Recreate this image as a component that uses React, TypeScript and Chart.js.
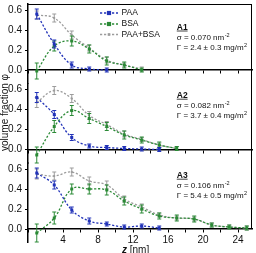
import React, { useEffect, useRef } from 'react';
import { Chart, registerables } from 'chart.js';

Chart.register(...registerables);

// ---------- data ----------
const Z_NM = [1, 3, 5, 7, 9, 11, 13, 15, 17, 19, 21, 23, 25];
const X_TICK_LABELS = [4, 8, 12, 16, 20, 24];
const Y_TICKS = [0, 0.2, 0.4, 0.6];

const SERIES_NAMES = ['PAA', 'BSA', 'PAA+BSA'];
const PANEL_NAMES = ['A1', 'A2', 'A3'];
const SIGMA_VALUES = ['0.070', '0.082', '0.106'];
const GAMMA_VALUES = ['2.4 ± 0.3', '3.7 ± 0.4', '5.4 ± 0.5'];

// panel A1
const PAA_A1 = [0.56, 0.26, 0.05, 0.01, 0.0];
const PAA_A1_ERR = [0.05, 0.04, 0.03, 0.02, 0.02];
const BSA_A1 = [-0.01, 0.24, 0.29, 0.21, 0.09, 0.05, 0.0];
const BSA_A1_ERR = [0.08, 0.05, 0.05, 0.04, 0.04, 0.03, 0.02];
const SUM_A1 = [0.55, 0.52, 0.35, 0.22, 0.1, 0.05, 0.01];
const SUM_A1_ERR = [0.04, 0.04, 0.04, 0.03, 0.03, 0.02, 0.02];

// panel A2
const PAA_A2 = [0.52, 0.35, 0.12, 0.035, 0.02, 0.01, 0.005, 0.0];
const PAA_A2_ERR = [0.05, 0.04, 0.03, 0.02, 0.02, 0.02, 0.02, 0.02];
const BSA_A2 = [-0.055, 0.23, 0.39, 0.31, 0.23, 0.145, 0.095, 0.045, 0.01];
const BSA_A2_ERR = [0.08, 0.06, 0.05, 0.05, 0.04, 0.04, 0.03, 0.03, 0.02];
const SUM_A2 = [0.47, 0.59, 0.51, 0.34, 0.25, 0.155, 0.1, 0.045, 0.01];
const SUM_A2_ERR = [0.05, 0.04, 0.04, 0.04, 0.03, 0.03, 0.02, 0.02, 0.02];

// panel A3
const PAA_A3 = [0.56, 0.44, 0.19, 0.08, 0.05, 0.02, 0.03, 0.01];
const PAA_A3_ERR = [0.05, 0.04, 0.03, 0.03, 0.02, 0.02, 0.02, 0.02];
const BSA_A3 = [-0.04, 0.11, 0.4, 0.4, 0.39, 0.28, 0.2, 0.13, 0.11, 0.1, 0.04, 0.02, 0.01];
const BSA_A3_ERR = [0.09, 0.06, 0.05, 0.05, 0.05, 0.04, 0.04, 0.03, 0.03, 0.03, 0.02, 0.02, 0.02];
const SUM_A3 = [0.55, 0.53, 0.57, 0.48, 0.44, 0.3, 0.22, 0.14, 0.11, 0.1, 0.04, 0.02, 0.01];
const SUM_A3_ERR = [0.05, 0.04, 0.04, 0.04, 0.04, 0.03, 0.03, 0.02, 0.02, 0.02, 0.02, 0.02, 0.02];

// ---------- styles ----------
const FONT = "'Liberation Sans', Arial, sans-serif";
const BLUE = '#2233b8';
const GREEN = '#2b8a36';
const GREY = '#9c9c9c';
const COLORS = [BLUE, GREEN, GREY];

const PANELS = [
  { x: 'xA', y: 'yA', vals: [PAA_A1, BSA_A1, SUM_A1], errs: [PAA_A1_ERR, BSA_A1_ERR, SUM_A1_ERR], annot: 0.405 },
  { x: 'xB', y: 'yB', vals: [PAA_A2, BSA_A2, SUM_A2], errs: [PAA_A2_ERR, BSA_A2_ERR, SUM_A2_ERR], annot: 0.518 },
  { x: 'x', y: 'y', vals: [PAA_A3, BSA_A3, SUM_A3], errs: [PAA_A3_ERR, BSA_A3_ERR, SUM_A3_ERR], annot: 0.513 },
];

function makeDataset(series: number, panel: any) {
  const vals: number[] = panel.vals[series];
  const isSum = series === 2;
  return {
    label: SERIES_NAMES[series],
    data: vals.map((v, i) => ({ x: Z_NM[i], y: v })),
    errors: panel.errs[series],
    borderColor: COLORS[series],
    backgroundColor: COLORS[series],
    borderWidth: 1.3,
    borderDash: [2.2, 1.8],
    pointStyle: 'rect',
    pointRadius: isSum ? 1.3 : 2.1,
    pointBorderWidth: 0,
    tension: 0.4,
    fill: false,
    clip: false,
    xAxisID: panel.x,
    yAxisID: panel.y,
  };
}

const errorBarPlugin = {
  id: 'errorBars',
  afterDatasetDraw(chart: any, args: any) {
    const ds = chart.data.datasets[args.index];
    const errs = ds.errors;
    if (!errs) return;
    const ys = chart.scales[ds.yAxisID];
    const ctx = chart.ctx;
    ctx.save();
    ctx.strokeStyle = ds.borderColor;
    ctx.lineWidth = 1;
    ctx.setLineDash([]);
    args.meta.data.forEach((pt: any, i: number) => {
      const v = ds.data[i].y;
      const e = errs[i];
      const yt = ys.getPixelForValue(v + e);
      const yb = ys.getPixelForValue(v - e);
      ctx.beginPath();
      ctx.moveTo(pt.x, yt);
      ctx.lineTo(pt.x, yb);
      ctx.moveTo(pt.x - 2, yt);
      ctx.lineTo(pt.x + 2, yt);
      ctx.moveTo(pt.x - 2, yb);
      ctx.lineTo(pt.x + 2, yb);
      ctx.stroke();
    });
    ctx.restore();
  },
};

const decorPlugin = {
  id: 'decor',
  afterDraw(chart: any) {
    const { ctx, chartArea: ca } = chart;
    const yBottom = chart.scales.y;
    ctx.save();
    // frame: top and right lines
    ctx.strokeStyle = '#000';
    ctx.lineWidth = 1;
    ctx.setLineDash([]);
    ctx.beginPath();
    ctx.moveTo(ca.left, ca.top + 0.5);
    ctx.lineTo(ca.right, ca.top + 0.5);
    ctx.moveTo(ca.right - 0.5, ca.top);
    ctx.lineTo(ca.right - 0.5, yBottom.getPixelForValue(0));
    ctx.stroke();

    // legend (top panel)
    const lx0 = ca.left + 72;
    const lx1 = ca.left + 90;
    const rows = [ca.top + 9, ca.top + 20, ca.top + 30.5];
    SERIES_NAMES.forEach((name, i) => {
      const yy = rows[i];
      ctx.strokeStyle = COLORS[i];
      ctx.fillStyle = COLORS[i];
      ctx.lineWidth = 1.3;
      ctx.setLineDash([2.2, 1.8]);
      ctx.beginPath();
      ctx.moveTo(lx0, yy);
      ctx.lineTo(lx1, yy);
      ctx.stroke();
      ctx.setLineDash([]);
      const r = i === 2 ? 1.3 : 2.1;
      const cx = (lx0 + lx1) / 2;
      ctx.fillRect(cx - r, yy - r, 2 * r, 2 * r);
      ctx.fillStyle = '#111';
      ctx.font = `8.5px ${FONT}`;
      ctx.textBaseline = 'middle';
      ctx.textAlign = 'left';
      ctx.fillText(name, lx1 + 3.5, yy);
    });

    // panel annotations
    PANELS.forEach((p, i) => {
      const ys = chart.scales[p.y];
      const xs = chart.scales[p.x];
      const ax = xs.getPixelForValue(17);
      const base = ys.getPixelForValue(p.annot);
      ctx.fillStyle = '#111';
      ctx.textBaseline = 'alphabetic';
      ctx.textAlign = 'left';
      ctx.font = `bold 8.5px ${FONT}`;
      ctx.fillText(PANEL_NAMES[i], ax, base);
      const w = ctx.measureText(PANEL_NAMES[i]).width;
      ctx.strokeStyle = '#111';
      ctx.lineWidth = 0.8;
      ctx.beginPath();
      ctx.moveTo(ax, base + 1.5);
      ctx.lineTo(ax + w, base + 1.5);
      ctx.stroke();

      ctx.font = `8px ${FONT}`;
      const s1 = `σ = ${SIGMA_VALUES[i]} nm`;
      ctx.fillText(s1, ax, base + 10.5);
      const w1 = ctx.measureText(s1).width;
      const s2 = `Γ = ${GAMMA_VALUES[i]} mg/m`;
      ctx.fillText(s2, ax, base + 20.5);
      const w2 = ctx.measureText(s2).width;
      ctx.font = `5.5px ${FONT}`;
      ctx.fillText('-2', ax + w1 + 0.5, base + 7.5);
      ctx.fillText('2', ax + w2 + 0.5, base + 17.5);
    });

    // x title
    const tx = ca.left + 94;
    ctx.fillStyle = '#111';
    ctx.textBaseline = 'alphabetic';
    ctx.textAlign = 'left';
    ctx.font = `italic bold 10px ${FONT}`;
    ctx.fillText('z', tx, 253.3);
    const zw = ctx.measureText('z ').width;
    ctx.font = `10px ${FONT}`;
    ctx.fillText('[nm]', tx + zw, 253.3);

    // y title
    ctx.translate(8, 112.5);
    ctx.rotate(-Math.PI / 2);
    ctx.textAlign = 'center';
    ctx.font = `10px ${FONT}`;
    ctx.fillText('volume fraction φ', 0, 0);
    ctx.restore();
  },
};

function xAxis(posId: string, showLabels: boolean) {
  return {
    type: 'linear',
    min: 0,
    max: 25.6,
    position: { [posId]: 0 },
    border: { display: true, color: '#000', width: 1.5 },
    grid: { display: true, drawOnChartArea: false, drawTicks: true, tickLength: 3, color: '#000', lineWidth: 1 },
    ticks: {
      display: showLabels,
      stepSize: 2,
      includeBounds: false,
      autoSkip: false,
      maxRotation: 0,
      padding: 2,
      color: '#111',
      font: { family: FONT, size: 10 },
      callback: (v: any) => (X_TICK_LABELS.includes(Number(v)) ? String(v) : ''),
    },
    afterFit: (s: any) => {
      s.paddingLeft = 0;
      s.paddingRight = 0;
      s.paddingTop = 0;
      s.paddingBottom = 0;
    },
  };
}

function yAxis(weight: number) {
  return {
    type: 'linear',
    min: -0.135,
    max: 0.66,
    position: 'left',
    stack: 'panels',
    stackWeight: 1,
    weight,
    offset: false,
    border: { display: true, color: '#000', width: 1.5 },
    grid: { display: true, drawOnChartArea: false, drawTicks: true, tickLength: 3, color: '#000', lineWidth: 1 },
    ticks: {
      padding: 3,
      autoSkip: false,
      color: '#111',
      font: { family: FONT, size: 10 },
      callback: (v: any) => Number(v).toFixed(1),
    },
    afterBuildTicks: (s: any) => {
      s.ticks = Y_TICKS.map((value) => ({ value }));
    },
    afterFit: (s: any) => {
      s.width = 28;
      s.paddingTop = 0;
      s.paddingBottom = 0;
      s.paddingLeft = 0;
      s.paddingRight = 0;
    },
  };
}

export default function App() {
  const ref = useRef<HTMLCanvasElement | null>(null);
  useEffect(() => {
    document.body.style.margin = '0';
    const datasets: any[] = [];
    for (let s = 0; s < 3; s++) {
      PANELS.forEach((p) => datasets.push(makeDataset(s, p)));
    }
    const chart = new Chart(ref.current as HTMLCanvasElement, {
      type: 'line',
      data: { datasets },
      options: {
        responsive: false,
        animation: false,
        layout: { padding: { left: 0, top: 4, right: 4, bottom: 10.5 } },
        plugins: { legend: { display: false }, tooltip: { enabled: false }, title: { display: false } },
        scales: {
          y: yAxis(1),
          yB: yAxis(2),
          yA: yAxis(3),
          x: xAxis('y', true),
          xB: xAxis('yB', false),
          xA: xAxis('yA', false),
        } as any,
      } as any,
      plugins: [errorBarPlugin, decorPlugin],
    } as any);
    return () => chart.destroy();
  }, []);
  return (
    <div style={{ width: 256, height: 253, position: 'relative', background: '#fff' }}>
      <canvas ref={ref} width={256} height={253} style={{ display: 'block' }} />
    </div>
  );
}
